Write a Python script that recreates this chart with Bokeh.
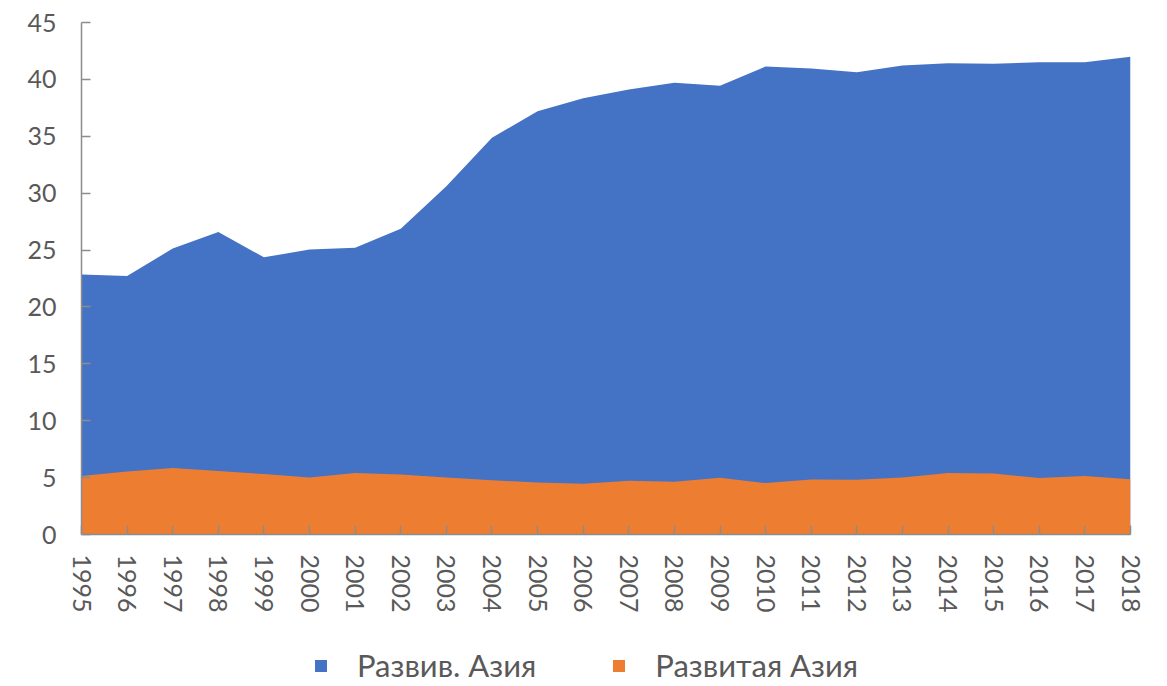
from bokeh.plotting import figure
from bokeh.models import Range1d, FixedTicker, Legend, LegendItem
from bokeh.layouts import column
from bokeh.embed import file_html
from bokeh.resources import INLINE

years = list(range(1995, 2019))
year_labels = [str(y) for y in years]
developing_asia = [22.85, 22.72, 25.13, 26.59, 24.36, 25.04, 25.21, 26.88, 30.6, 34.87,
                   37.21, 38.35, 39.11, 39.70, 39.44, 41.13, 40.96, 40.63, 41.22, 41.42,
                   41.37, 41.51, 41.51, 41.98]
developed_asia = [5.15, 5.54, 5.84, 5.58, 5.31, 5.02, 5.40, 5.28, 5.02, 4.76,
                  4.58, 4.46, 4.73, 4.64, 4.99, 4.52, 4.84, 4.81, 5.02, 5.40,
                  5.37, 4.96, 5.14, 4.86]
y_ticks = [0, 5, 10, 15, 20, 25, 30, 35, 40, 45]
series_names = ["Развив. Азия", "Развитая Азия"]
series_colors = ["#4472C4", "#ED7D31"]

FONT = "Lato"
TXT = "#595959"
AX = "#8c8c8c"

# ---- main chart ----
p = figure(frame_width=1049, frame_height=512, output_backend="svg", toolbar_location=None,
           x_range=Range1d(years[0], years[-1]), y_range=Range1d(0, 45),
           min_border_left=81, min_border_right=30, min_border_top=22,
           min_border_bottom=0)
p.outline_line_color = None
p.xgrid.visible = False
p.ygrid.visible = False
p.background_fill_color = "white"

zeros = [0] * len(years)
p.varea(x=years, y1=zeros, y2=developing_asia, fill_color=series_colors[0])
p.varea(x=years, y1=zeros, y2=developed_asia, fill_color=series_colors[1])

for ax in (p.xaxis[0], p.yaxis[0]):
    ax.axis_line_color = AX
    ax.axis_line_width = 1.5
    ax.major_tick_line_color = AX
    ax.major_tick_line_width = 1.5
    ax.major_tick_in = 9
    ax.major_tick_out = 0
    ax.minor_tick_line_color = None
    ax.major_label_text_font = FONT
    ax.major_label_text_font_size = "25px"
    ax.major_label_text_color = TXT

p.xaxis.ticker = FixedTicker(ticks=years)
p.xaxis.major_label_overrides = {y: lab for y, lab in zip(years, year_labels)}
p.xaxis.major_label_orientation = "vertical"
p.xaxis.major_label_standoff = 20
p.yaxis.ticker = FixedTicker(ticks=y_ticks)
p.yaxis.major_label_standoff = 25

# ---- legend strip below the chart ----
pl = figure(width=1160, height=74, output_backend="svg", toolbar_location=None,
            x_range=Range1d(0, 1), y_range=Range1d(0, 1),
            x_axis_location=None, y_axis_location=None, min_border=0)
pl.outline_line_color = None
pl.xgrid.visible = False
pl.ygrid.visible = False
# same series, lying outside this strip's ranges: only their legend swatches show
l1 = pl.varea(x=years, y1=zeros, y2=developing_asia, fill_color=series_colors[0])
l2 = pl.varea(x=years, y1=zeros, y2=developed_asia, fill_color=series_colors[1])

legend = Legend(items=[LegendItem(label=series_names[0], renderers=[l1]),
                       LegendItem(label=series_names[1], renderers=[l2])],
                orientation="horizontal", location=(232, 5),
                padding=0, margin=0, spacing=75, label_standoff=29,
                glyph_width=15, glyph_height=15,
                label_text_font=FONT, label_text_font_size="31px",
                label_text_color=TXT, background_fill_alpha=0,
                border_line_alpha=0)
pl.add_layout(legend, "center")

layout = column(p, pl, spacing=0)
open("out.html", "w").write(file_html(layout, INLINE))
